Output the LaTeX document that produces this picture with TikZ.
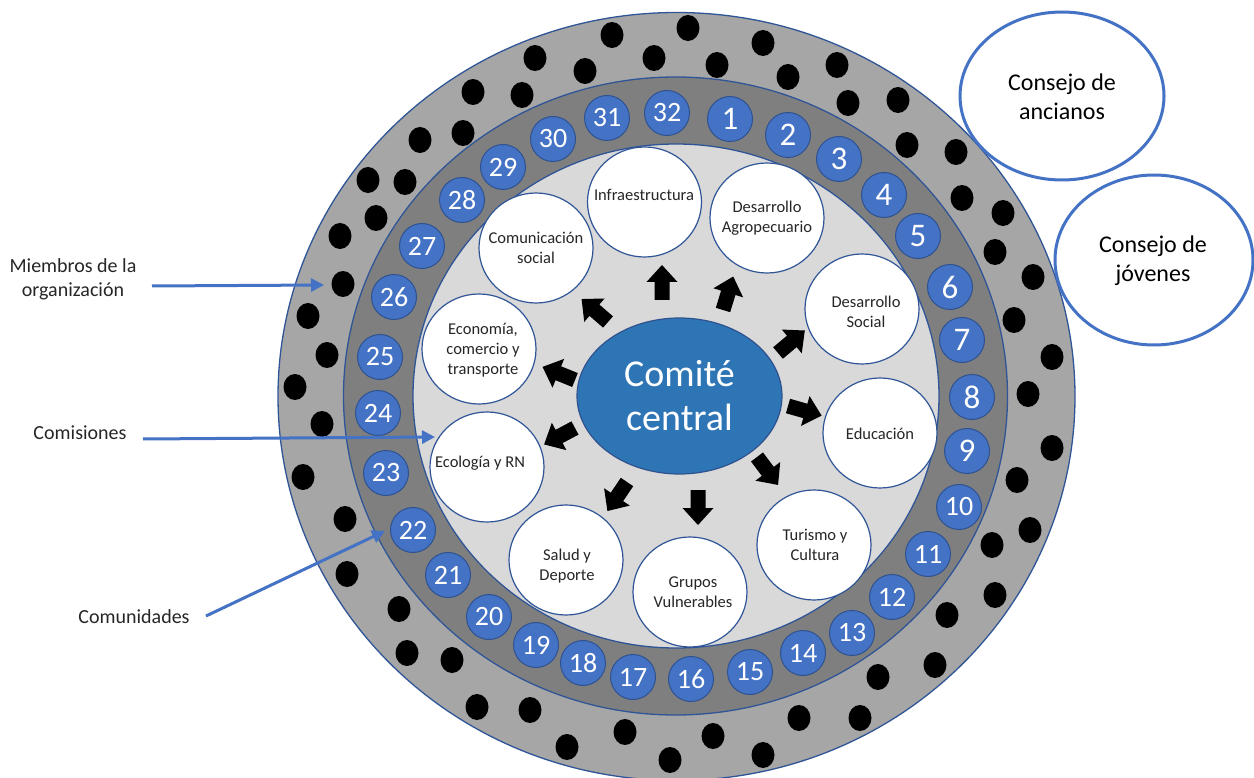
\documentclass[tikz,border=0pt]{standalone}
\usepackage{fontspec}
\setmainfont{Carlito}
\usetikzlibrary{shapes.geometric,arrows.meta}
\definecolor{ringA}{HTML}{A6A6A6}
\definecolor{ringB}{HTML}{7F7F7F}
\definecolor{ringC}{HTML}{D9D9D9}
\definecolor{edgeblue}{HTML}{2F5597}
\definecolor{numblue}{HTML}{4472C4}
\definecolor{numedge}{HTML}{2F528F}
\definecolor{centralblue}{HTML}{2E75B6}
\definecolor{lineblue}{HTML}{4472C4}
\begin{document}
\begin{tikzpicture}[x=1pt,y=-1pt,
  ring/.style={ellipse,inner sep=0pt,draw=edgeblue,line width=1.3pt},
  dot/.style={ellipse,inner sep=0pt,fill=black,minimum width=23pt,minimum height=26pt},
  numc/.style={circle,inner sep=0pt,fill=numblue,draw=numedge,line width=1pt,minimum size=45pt,text=white},
  comm/.style={ellipse,inner sep=0pt,fill=white,draw=edgeblue,line width=1.2pt,minimum width=114pt,minimum height=110pt},
  commtext/.style={align=center,inner sep=0pt,font=\fontsize{16.5}{20}\selectfont,text=black!85},
  consejo/.style={ellipse,inner sep=0pt,fill=white,draw=lineblue,line width=3pt},
  consejotext/.style={align=center,inner sep=0pt,font=\fontsize{24}{29}\selectfont},
  lbl/.style={align=center,inner sep=0pt,font=\fontsize{20}{24}\selectfont,text=black!85},
  pointer/.style={draw=lineblue,line width=3pt,-{Triangle[length=13pt,width=13pt]}},
  blockarrow/.pic={\fill[black] (0,-7.5)--(18,-7.5)--(18,-15.5)--(35,0)--(18,15.5)--(18,7.5)--(0,7.5)--cycle;}
]
\useasboundingbox (0,0) rectangle (1254,778);
% rings
\node[ring,fill=ringA,minimum width=797pt,minimum height=768pt] (outer) at (676.5,396.5) {};
\foreach \i/\x/\y in {1/612/35,2/688/28,3/654/58,4/585/71,5/535/58,6/522/95,7/473/92,8/463/133,9/420/140,10/405/182,11/368/180,12/376/218,13/340/236,14/343/284,15/308/316,16/327/355,17/295/387,18/322/424,19/303/477,20/345/519,21/347/574,22/399/609,23/407/653,24/452/660,25/477/707,26/530/710,27/567/747,28/625/732,29/670/760,30/713/736,31/763/755,32/799/718,33/860/718,34/878/677,35/935/665,36/947/615,37/995/595,38/992/545,39/1030/530,40/1017/480,41/1052/448,42/1028/394,43/1052/357,44/1014/320,45/1033/277,46/995/252,47/1003/213,48/962/198,49/956/152,50/907/145,51/898/100,52/848/103,53/837/65,54/788/77,55/763/43,56/717/65}
  \node[dot] (d\i) at (\x,\y) {};
\node[ring,fill=ringB,minimum width=664pt,minimum height=638pt] (middle) at (675.5,396) {};
\foreach \n/\x/\y in {1/730/119,2/788/135,3/839/159,4/884/195,5/918/236,6/950/287,7/962/340,8/972/397,9/967/451}
  \node[numc,font=\fontsize{33}{33}\selectfont] (n\n) at (\x,\y) {\n};
\foreach \n/\x/\y in {10/959/507,11/928/554,12/892/597,13/852/633,14/803/653,15/750/672,16/691/679,17/633/677,18/583/663,19/536/645,20/489/617,21/448/575,22/413/530,23/386/473,24/378/413,25/380/357,26/394/297,27/422/246,28/462/200,29/503/167,30/553/139,31/607/118,32/667/113}
  \node[numc,font=\fontsize{28}{28}\selectfont] (n\n) at (\x,\y) {\n};
\node[ring,fill=ringC,minimum width=526pt,minimum height=504pt] (inner) at (676,396) {};
% commissions
\node[comm] (infra) at (644.5,202) {};
\node[commtext] at (644,195) {Infraestructura};
\node[comm] (comu) at (536,248) {};
\node[commtext] at (536,248) {Comunicación\\social};
\node[comm] (agro) at (767,218) {};
\node[commtext] at (767,218) {Desarrollo\\Agropecuario};
\node[comm] (social) at (862,309) {};
\node[commtext] at (866,312) {Desarrollo\\Social};
\node[comm] (econ) at (479,349) {};
\node[commtext] at (483,350) {Economía,\\comercio y\\transporte};
\node[comm] (ecol) at (487,467) {};
\node[commtext] at (480,463) {Ecología y RN};
\node[comm] (salud) at (566,560) {};
\node[commtext] at (567,566) {Salud y\\Deporte};
\node[comm] (grupos) at (690,592) {};
\node[commtext] at (693,592) {Grupos\\Vulnerables};
\node[comm] (turismo) at (814,545) {};
\node[commtext] at (815,545) {Turismo y\\Cultura};
\node[comm] (educ) at (880,433) {};
\node[commtext] at (880,434) {Educación};
% central
\node[ellipse,inner sep=0pt,fill=centralblue,draw=numedge,line width=1.2pt,minimum width=205pt,minimum height=156pt,
  text=white,align=center,font=\fontsize{38}{44}\selectfont] (cc) at (679.5,396) {Comité\\central};
% block arrows
\pic[rotate=90] at (662,300) {blockarrow};
\pic[rotate=73] at (723,310) {blockarrow};
\pic[rotate=40] at (778,353) {blockarrow};
\pic[rotate=-16] at (788,406) {blockarrow};
\pic[rotate=-53] at (757,457) {blockarrow};
\pic[rotate=-90] at (698,490) {blockarrow};
\pic[rotate=-124] at (627,482) {blockarrow};
\pic[rotate=-152] at (575,428) {blockarrow};
\pic[rotate=158] at (575,380) {blockarrow};
\pic[rotate=139] at (608,322) {blockarrow};
% councils
\node[consejo,minimum width=204pt,minimum height=168pt] (anc) at (1062,96) {};
\node[consejotext] at (1062,97) {Consejo de\\ancianos};
\node[consejo,minimum width=198pt,minimum height=170pt] (jov) at (1154,260) {};
\node[consejotext] at (1153,261) {Consejo de\\jóvenes};
% left labels
\node[lbl] (miembros) at (73,279) {Miembros de la\\organización};
\node[lbl] (comisiones) at (80,433) {Comisiones};
\node[lbl] (comunidades) at (134,617) {Comunidades};
\coordinate (m0) at (152,286);
\coordinate (m1) at (324,285);
\coordinate (c0) at (143,439);
\coordinate (c1) at (435,437);
\coordinate (u0) at (206,616);
\coordinate (u1) at (385,531);
\draw[pointer] (m0) -- (m1);
\draw[pointer] (c0) -- (c1);
\draw[pointer] (u0) -- (u1);
\end{tikzpicture}
\end{document}
